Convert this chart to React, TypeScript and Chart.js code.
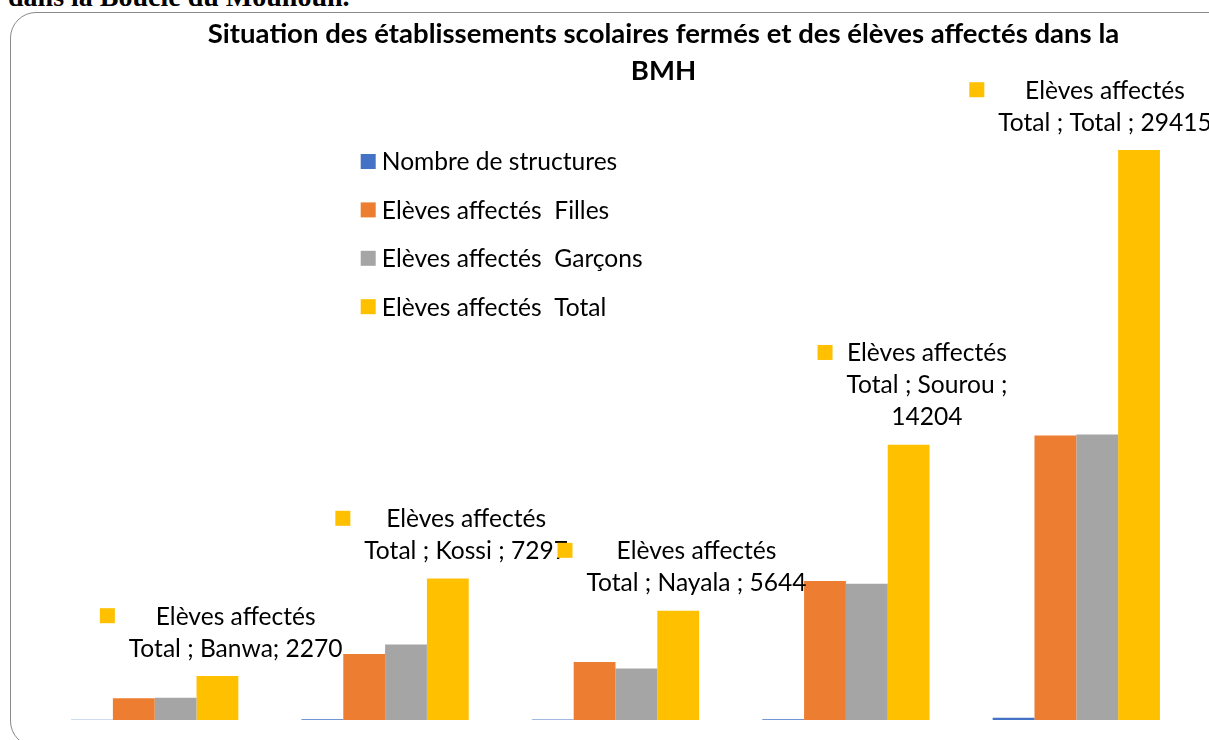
import React, { useEffect, useRef } from "react";
import { Chart, registerables } from "chart.js";

Chart.register(...registerables);

// ---------- data ----------
const categories = ["Banwa", "Kossi", "Nayala", "Sourou", "Total"];
const nombreStructures = [14, 38, 28, 35, 115];
const elevesFilles = [1120, 3400, 2990, 7170, 14680];
const elevesGarcons = [1150, 3897, 2654, 7034, 14735];
const elevesTotal = [2270, 7297, 5644, 14204, 29415];

const seriesLabels = [
  "Nombre de structures",
  "Elèves affectés  Filles",
  "Elèves affectés  Garçons",
  "Elèves affectés  Total",
];
const seriesColors = ["#4472C4", "#ED7D31", "#A5A5A5", "#FFC000"];
const titleLines = [
  "Situation des établissements scolaires fermés et des élèves affectés dans la",
  "BMH",
];
const headingText = "dans la Boucle du Mouhoun.";

// ---------- style constants ----------
const FAMILY = "Lato, 'Noto Sans', sans-serif";
const CANVAS_W = 1305;
const CANVAS_H = 733;

function fitSize(text: string, weight: string, target: number): number {
  const c = document.createElement("canvas").getContext("2d")!;
  c.font = `${weight} 100px ${FAMILY}`;
  const w = c.measureText(text).width;
  return (100 * target) / w;
}

function wrapText(ctx: CanvasRenderingContext2D, text: string, maxW: number): string[] {
  const words = text.split(" ");
  const lines: string[] = [];
  let cur = "";
  for (const w of words) {
    const test = cur ? cur + " " + w : w;
    if (cur && ctx.measureText(test).width > maxW) {
      lines.push(cur);
      cur = w;
    } else {
      cur = test;
    }
  }
  if (cur) lines.push(cur);
  return lines;
}

function calloutText(i: number): string {
  return `Total ; ${categories[i]}${i === 0 ? "" : " "}; ${elevesTotal[i]}`;
}

export default function App() {
  const ref = useRef<HTMLCanvasElement | null>(null);

  useEffect(() => {
    if (!ref.current) return;
    const textSize = fitSize("Elèves affectés", "normal", 160);
    const titleSize = fitSize(titleLines[0], "bold", 912);
    const capH = textSize * 0.7165;

    const overlay = {
      id: "overlay",
      afterDatasetsDraw(chart: any) {
        const ctx: CanvasRenderingContext2D = chart.ctx;
        ctx.save();
        // title
        ctx.font = `bold ${titleSize}px ${FAMILY}`;
        ctx.fillStyle = "#000";
        ctx.textAlign = "center";
        ctx.textBaseline = "alphabetic";
        titleLines.forEach((t, k) => {
          ctx.fillText(t, CANVAS_W / 2, 30.2 + k * 36.5);
        });

        // legend
        ctx.font = `normal ${textSize}px ${FAMILY}`;
        ctx.textAlign = "left";
        seriesLabels.forEach((lab, i) => {
          const cy = 148.5 + i * 48.4;
          ctx.fillStyle = seriesColors[i];
          ctx.fillRect(349.7, cy - 7.5, 15, 15);
          ctx.fillStyle = "#000";
          ctx.fillText(lab, 370.8, cy + capH / 2);
        });

        // callouts for total series
        const meta = chart.getDatasetMeta(3);
        meta.data.forEach((bar: any, i: number) => {
          const lines = ["Elèves affectés", ...wrapText(ctx, calloutText(i), 228)];
          const dx = i === meta.data.length - 1 ? -34 : 18.3;
          const cx = bar.x + dx;
          const maxW = Math.max(...lines.map((l) => ctx.measureText(l).width));
          const lastBase = bar.y - 19.5;
          const firstBase = lastBase - (lines.length - 1) * 32;
          ctx.fillStyle = "#000";
          ctx.textAlign = "center";
          lines.forEach((l, k) => {
            ctx.fillText(l, cx, firstBase + k * 32);
          });
          ctx.fillStyle = seriesColors[3];
          ctx.fillRect(cx - maxW / 2 - 14 - 15, firstBase - capH / 2 - 7.5, 15, 15);
        });
        ctx.restore();
      },
    };

    const datasetsValues = [nombreStructures, elevesFilles, elevesGarcons, elevesTotal];
    const chart = new Chart(ref.current, {
      type: "bar",
      data: {
        labels: categories,
        datasets: datasetsValues.map((vals, i) => ({
          label: seriesLabels[i],
          data: vals,
          backgroundColor: seriesColors[i],
          borderWidth: 0,
          barPercentage: 1,
          categoryPercentage: 0.726,
        })),
      },
      options: {
        animation: false,
        responsive: false,
        devicePixelRatio: 1,
        layout: { padding: { left: 28.5, right: 124.5, top: 125.7, bottom: 26 } },
        plugins: {
          legend: { display: false },
          title: { display: false },
          tooltip: { enabled: false },
        },
        scales: {
          x: { display: false },
          y: { display: false, min: 0, max: 30000 },
        },
      },
      plugins: [overlay],
    });
    return () => chart.destroy();
  }, []);

  return (
    <div
      style={{
        position: "fixed",
        left: 0,
        top: 0,
        width: 1209,
        height: 740,
        overflow: "hidden",
        background: "#fff",
      }}
    >
      <div
        style={{
          position: "absolute",
          left: 8,
          top: -17.5,
          fontFamily: "'Liberation Serif', 'Times New Roman', serif",
          fontWeight: "bold",
          fontSize: 28,
          lineHeight: "28px",
          whiteSpace: "nowrap",
          color: "#000",
        }}
      >
        {headingText}
      </div>
      <div
        style={{
          position: "absolute",
          left: 10,
          top: 12,
          width: CANVAS_W,
          height: CANVAS_H,
          border: "1px solid #8a8a8a",
          borderRadius: 26,
          background: "#fff",
        }}
      >
        <canvas
          ref={ref}
          width={CANVAS_W}
          height={CANVAS_H}
          style={{ display: "block", width: CANVAS_W, height: CANVAS_H }}
        />
      </div>
    </div>
  );
}
